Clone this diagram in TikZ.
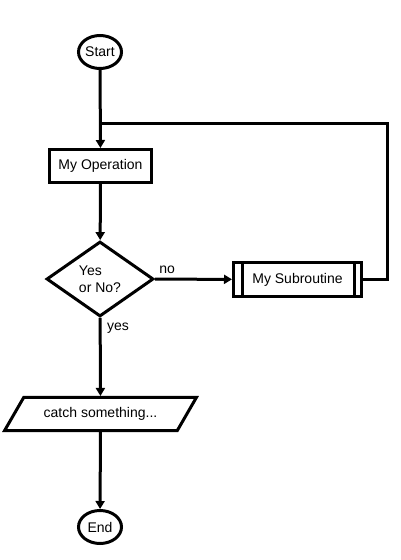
\documentclass[tikz,border=0pt]{standalone}
\usepackage{fontspec}
\setmainfont{Liberation Sans}
\usetikzlibrary{arrows,positioning,calc,arrows.meta,shapes.geometric}
\tikzset{>={Triangle[length=8pt,width=9pt]}}

\begin{document}
\begin{tikzpicture}[x=1pt,y=-1pt,line width=3pt,
    font=\fontsize{14}{17}\selectfont,
    term/.style={draw,ellipse,minimum width=43pt,minimum height=33pt,inner sep=0pt},
    proc/.style={draw,rectangle,minimum width=102pt,minimum height=33pt},
    decide/.style={draw,diamond,minimum width=107pt,minimum height=75pt,inner sep=0pt,align=left},
    subr/.style={draw,rectangle,minimum width=128pt,minimum height=34pt},
    io/.style={draw,trapezium,trapezium left angle=60,trapezium right angle=120,inner xsep=20pt,inner ysep=10pt}]
            \useasboundingbox (0,0) rectangle (400,560);
            \node [term] (start) at (100,52) {Start};
            \node [proc] (op) at (100.5,166) {My Operation};
            \node [decide] (yn) at (100,279) {Yes\\or No?};
            \node [subr] (sub) at (297.5,279.5) {My Subroutine};
            \node [io] (catch) at (100.5,414) {catch something...};
            \node [term] (stop) at (100,527) {End};
            \coordinate (join) at (100,123);
            \coordinate (back) at (387,123);
            % subroutine side bars
            \draw ($(sub.north west)+(10,0)$) -- ($(sub.south west)+(10,0)$);
            \draw ($(sub.north east)+(-9,0)$) -- ($(sub.south east)+(-9,0)$);
            \draw [->] (start) -- (op);
            \draw (sub.east) -| (back) -- (join);
            \draw [->] (op) -- (yn);
            \draw [->] (yn) -- node [pos=0.16,above,yshift=1pt] {no} (sub);
            \draw [->] (yn) -- node [pos=0.13,right=2pt] {yes} (catch);
            \draw [->] (catch) -- (stop);
\end{tikzpicture}
\end{document}
